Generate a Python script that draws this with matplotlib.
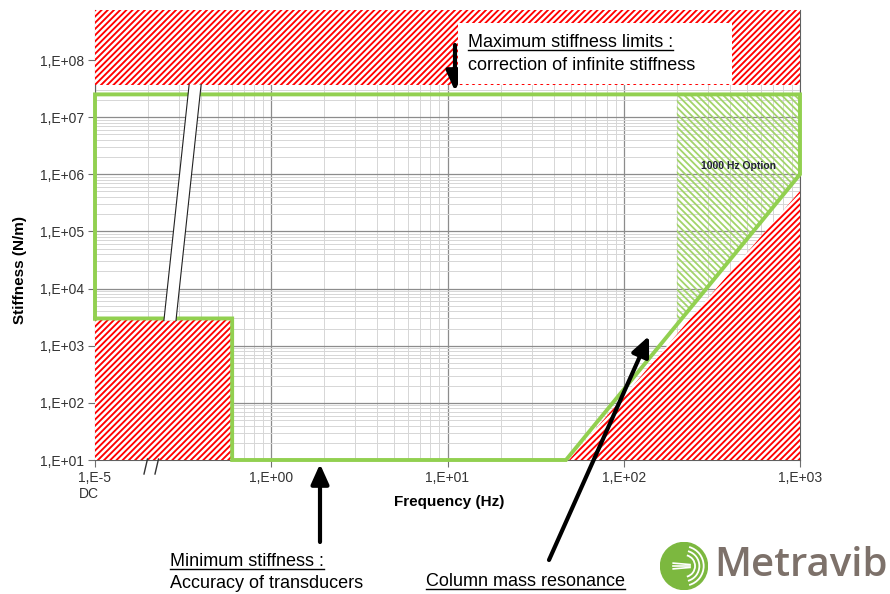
import numpy as np
import matplotlib.pyplot as plt
from matplotlib.patches import Polygon, Rectangle, Circle, Arc
from matplotlib.lines import Line2D
from matplotlib.collections import LineCollection
from matplotlib.transforms import IdentityTransform
from matplotlib.ticker import FixedLocator, FixedFormatter, LogLocator, NullFormatter

plt.rcParams['font.family'] = ['Liberation Sans', 'DejaVu Sans']

W, H = 890, 594

# axis ticks
x_ticks = [1e-1, 1e0, 1e1, 1e2, 1e3]
x_tick_labels = ['1,E-5\nDC', '1,E+00', '1,E+01', '1,E+02', '1,E+03']
y_ticks = [1e1, 1e2, 1e3, 1e4, 1e5, 1e6, 1e7, 1e8]
y_tick_labels = ['1,E+01', '1,E+02', '1,E+03', '1,E+04', '1,E+05', '1,E+06', '1,E+07', '1,E+08']

# usable envelope (green outline)
env_freq = [0.1, 0.1, 1000, 1000, 47, 0.6, 0.6, 0.1]
env_stiff = [3e3, 2.5e7, 2.5e7, 1e6, 10, 10, 3e3, 3e3]

# 1000 Hz option (green hatch)
opt_freq = [200, 1000, 1000, 200]
opt_stiff = [2.5e7, 2.5e7, 1e6, 2.3e3]

# forbidden zones (red hatch)
top_freq = [0.1, 1000, 1000, 0.1]
top_stiff = [3.7e7, 3.7e7, 7.5e8, 7.5e8]
low_left_freq = [0.1, 0.6, 0.6, 0.1]
low_left_stiff = [10, 10, 3e3, 3e3]
low_right_freq = [49, 1000, 1000]
low_right_stiff = [10, 10, 5e5]


def fx(px):
    return px / W


def fy(py):
    return 1 - py / H


def stripes(ax, patch, color, step, lw, rising=True):
    # diagonal stripes in pixel space, clipped to the patch
    segs = []
    for c in np.arange(-H, W + H, step):
        if rising:
            segs.append([(c, 0), (c + H, H)])
        else:
            segs.append([(c, H), (c + H, 0)])
    lc = LineCollection(segs, colors=color, linewidths=lw,
                        transform=IdentityTransform(), zorder=patch.get_zorder() + 0.1)
    ax.add_collection(lc, autolim=False)
    lc.set_clip_path(patch)


fig = plt.figure(figsize=(W / 100, H / 100), dpi=100)
ax = fig.add_axes([fx(95), fy(460), 705 / W, 450 / H])
ax.set_xscale('log')
ax.set_yscale('log')
ax.set_xlim(0.1, 1000)
ax.set_ylim(10, 10 ** 8.875)

ax.set_axisbelow(True)
ax.grid(which='major', color='#8c8c8c', lw=0.9)
ax.grid(which='minor', color='#d6d6d6', lw=0.7)
ax.xaxis.set_major_locator(FixedLocator(x_ticks))
ax.xaxis.set_major_formatter(FixedFormatter(x_tick_labels))
ax.yaxis.set_major_locator(FixedLocator(y_ticks))
ax.yaxis.set_major_formatter(FixedFormatter(y_tick_labels))
ax.xaxis.set_minor_locator(LogLocator(base=10, subs=np.arange(2, 10), numticks=20))
ax.yaxis.set_minor_locator(LogLocator(base=10, subs=np.arange(2, 10), numticks=20))
ax.xaxis.set_minor_formatter(NullFormatter())
ax.yaxis.set_minor_formatter(NullFormatter())
ax.tick_params(which='minor', length=0)
ax.tick_params(which='major', length=5, color='#707070', labelsize=10,
               labelcolor='#333333', pad=3)
for lab in ax.get_xticklabels():
    lab.set_multialignment('left')
ax.spines['top'].set_visible(False)
for s in ['left', 'bottom', 'right']:
    ax.spines[s].set_color('#606060')
    ax.spines[s].set_linewidth(0.8)

# hatched zones
for fr, st in [(top_freq, top_stiff), (low_left_freq, low_left_stiff),
               (low_right_freq, low_right_stiff)]:
    p = Polygon(list(zip(fr, st)), facecolor='white', edgecolor='none', zorder=3)
    ax.add_patch(p)
    stripes(ax, p, '#ff0000', 6.2, 1.35, rising=True)

p_opt = Polygon(list(zip(opt_freq, opt_stiff)), facecolor='none', edgecolor='none', zorder=3)
ax.add_patch(p_opt)
stripes(ax, p_opt, '#a3d46a', 6.5, 1.3, rising=False)

ax.plot(env_freq, env_stiff, color='#92d050', lw=2.8, clip_on=False, zorder=4,
        solid_joinstyle='miter')

ax.text(450, 1.4e6, '1000 Hz Option', fontsize=7.5, fontweight='bold',
        ha='center', va='center', color='#1f2033', zorder=6)

# axis break band
bx = [0.246, 0.288, 0.400, 0.342]
by = [2.75e3, 2.75e3, 3.7e7, 3.7e7]
ax.add_patch(Polygon(list(zip(bx, by)), facecolor='white', edgecolor='none', zorder=5))
ax.plot([bx[0], bx[3]], [by[0], by[3]], color='#222222', lw=0.8, zorder=6)
ax.plot([bx[1], bx[2]], [by[1], by[2]], color='#222222', lw=0.8, zorder=6)

# break marks on x axis
for x0 in [144, 155]:
    fig.add_artist(Line2D([fx(x0), fx(x0 + 3.5)], [fy(474), fy(459)],
                          color='#333333', lw=1.0, transform=fig.transFigure))

# axis labels
fig.text(fx(20), fy(270), 'Stiffness (N/m)', rotation=90, fontsize=11,
         fontweight='bold', ha='center', va='center')
fig.text(fx(449), fy(502), 'Frequency (Hz)', fontsize=11,
         fontweight='bold', ha='center', va='center')

# annotation box at top
fig.add_artist(Rectangle((fx(458), fy(84)), 274 / W, 61 / H, facecolor='white',
                         edgecolor='none', transform=fig.transFigure, zorder=5))
t_max = fig.text(fx(468), fy(47), 'Maximum stiffness limits :', fontsize=13,
                 va='baseline', zorder=6)
fig.text(fx(468), fy(70), 'correction of infinite stiffness', fontsize=13,
         va='baseline', zorder=6)
t_min = fig.text(fx(170), fy(566), 'Minimum stiffness :', fontsize=13, va='baseline')
fig.text(fx(170), fy(588), 'Accuracy of transducers', fontsize=13, va='baseline')
t_col = fig.text(fx(426), fy(586), 'Column mass resonance', fontsize=13, va='baseline')

arrow_kw = dict(arrowstyle='-|>,head_length=0.6,head_width=0.27', color='k',
                lw=3, mutation_scale=20, shrinkA=0, shrinkB=0)
for tail, tip in [((455, 45), (455, 91)), ((320, 542), (320, 464)),
                  ((549, 560), (649, 336))]:
    ax.annotate('', xy=(fx(tip[0]), fy(tip[1])), xycoords='figure fraction',
                xytext=(fx(tail[0]), fy(tail[1])), textcoords='figure fraction',
                arrowprops=arrow_kw, annotation_clip=False, zorder=7)

# underline texts
fig.canvas.draw()
for t, ul in [(t_max, 50), (t_min, 569), (t_col, 589)]:
    bb = t.get_window_extent()
    fig.add_artist(Line2D([bb.x0 / W, bb.x1 / W], [fy(ul), fy(ul)], color='k',
                          lw=1.0, transform=fig.transFigure, zorder=7))

# logo
lax = fig.add_axes([fx(660), fy(590), 48 / W, 48 / H])
lax.set_xlim(-1, 1)
lax.set_ylim(-1, 1)
lax.set_aspect('equal')
lax.axis('off')
lax.add_patch(Circle((0, 0), 0.98, color='#7cb83f'))
for r in [0.82, 0.64, 0.46]:
    lax.add_patch(Arc((0, 0), 2 * r, 2 * r, theta1=-75, theta2=75, color='white', lw=1.3))
for dy in [-0.12, 0, 0.12]:
    lax.plot([-0.45, 0.25], [dy, dy * 0.5], color='white', lw=1.2)
fig.text(fx(888), fy(566), 'Metravib', fontsize=29, color='#7d716a', fontweight='semibold',
         ha='right', va='center', family=['Open Sans', 'DejaVu Sans'])

fig.savefig('out.png', dpi=100)
